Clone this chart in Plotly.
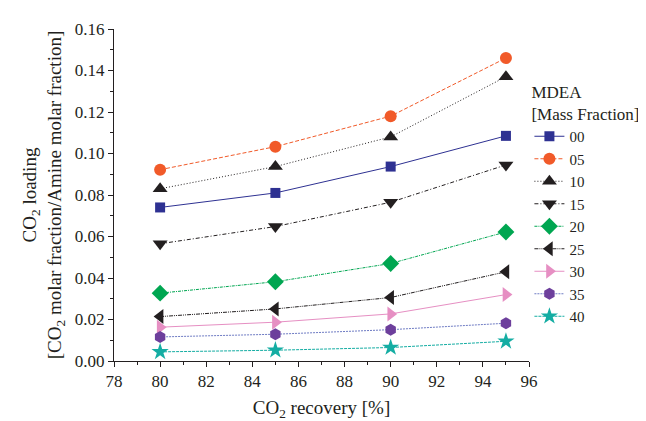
import plotly.graph_objects as go

recovery = [80, 85, 90, 95]
series_names = ["00", "05", "10", "15", "20", "25", "30", "35", "40"]
mdea_00 = [0.0740, 0.0810, 0.0937, 0.1085]
mdea_05 = [0.0922, 0.1033, 0.1180, 0.1460]
mdea_10 = [0.0830, 0.0937, 0.1080, 0.1370]
mdea_15 = [0.0565, 0.0648, 0.0765, 0.0945]
mdea_20 = [0.0327, 0.0382, 0.0470, 0.0622]
mdea_25 = [0.0214, 0.0251, 0.0306, 0.0430]
mdea_30 = [0.0163, 0.0187, 0.0227, 0.0320]
mdea_35 = [0.0116, 0.0129, 0.0151, 0.0182]
mdea_40 = [0.0044, 0.0052, 0.0065, 0.0095]
values = [mdea_00, mdea_05, mdea_10, mdea_15, mdea_20, mdea_25, mdea_30, mdea_35, mdea_40]

styles = [
    dict(symbol="square", mcolor="#2E3192", lcolor="#2E3192", dash="solid", size=10),
    dict(symbol="circle", mcolor="#F15A29", lcolor="#F15A29", dash="4px,2px", size=12),
    dict(symbol="triangle-up", mcolor="#231F20", lcolor="#231F20", dash="1px,2px", size=13),
    dict(symbol="triangle-down", mcolor="#231F20", lcolor="#231F20", dash="4px,2px,1px,2px", size=13),
    dict(symbol="diamond", mcolor="#00A651", lcolor="#00A651", dash="3px,1px,1px,1px", size=13),
    dict(symbol="triangle-left", mcolor="#231F20", lcolor="#231F20", dash="4px,1px,1px,1px,1px,1px", size=13),
    dict(symbol="triangle-right", mcolor="#E68FC3", lcolor="#E68FC3", dash="solid", size=13),
    dict(symbol="hexagon", mcolor="#6D3F9C", lcolor="#6F7CC4", dash="2px,1px", size=12),
    dict(symbol="star", mcolor="#14ADA3", lcolor="#14ADA3", dash="3px,1px", size=13),
]

fig = go.Figure()
for name, vals, st in zip(series_names, values, styles):
    fig.add_trace(go.Scatter(
        x=recovery, y=vals, name=name, mode="lines+markers",
        line=dict(color=st["lcolor"], width=1, dash=st["dash"]),
        marker=dict(symbol=st["symbol"], color=st["mcolor"], size=st["size"],
                    line=dict(width=0)),
    ))

font_family = "Times New Roman, Liberation Serif, serif"
fig.update_layout(
    width=646, height=421,
    paper_bgcolor="white", plot_bgcolor="white",
    margin=dict(l=106, r=113, t=17, b=68),
    font=dict(family=font_family, size=17, color="#231F20"),
    showlegend=True,
    legend=dict(
        x=1.001, y=0.859, xanchor="left", yanchor="top",
        bgcolor="rgba(0,0,0,0)",
        title=dict(text="MDEA<br>[Mass Fraction]", font=dict(size=17, family=font_family)),
        font=dict(size=15, family=font_family),
        tracegroupgap=0,
    ),
)
fig.update_xaxes(
    range=[78, 96], tickmode="linear", tick0=78, dtick=2,
    showline=True, linecolor="#231F20", linewidth=1,
    ticks="outside", ticklen=5, tickcolor="#231F20",
    minor=dict(ticks="outside", dtick=1, ticklen=3, tickcolor="#231F20"),
    showgrid=False, zeroline=False,
    title=dict(text="CO<sub>2</sub> recovery [%]", font=dict(size=19, family=font_family), standoff=10),
    tickfont=dict(size=17, family=font_family),
)
fig.update_yaxes(
    range=[0, 0.16], tickmode="linear", tick0=0, dtick=0.02, tickformat=".2f",
    showline=True, linecolor="#231F20", linewidth=1,
    ticks="outside", ticklen=5, tickcolor="#231F20",
    minor=dict(ticks="outside", dtick=0.01, ticklen=3, tickcolor="#231F20"),
    showgrid=False, zeroline=False,
    title=dict(text="CO<sub>2</sub> loading<br>[CO<sub>2</sub> molar fraction/Amine molar fraction]",
               font=dict(size=19, family=font_family), standoff=8),
    tickfont=dict(size=17, family=font_family),
)

fig.write_html("out.html")
